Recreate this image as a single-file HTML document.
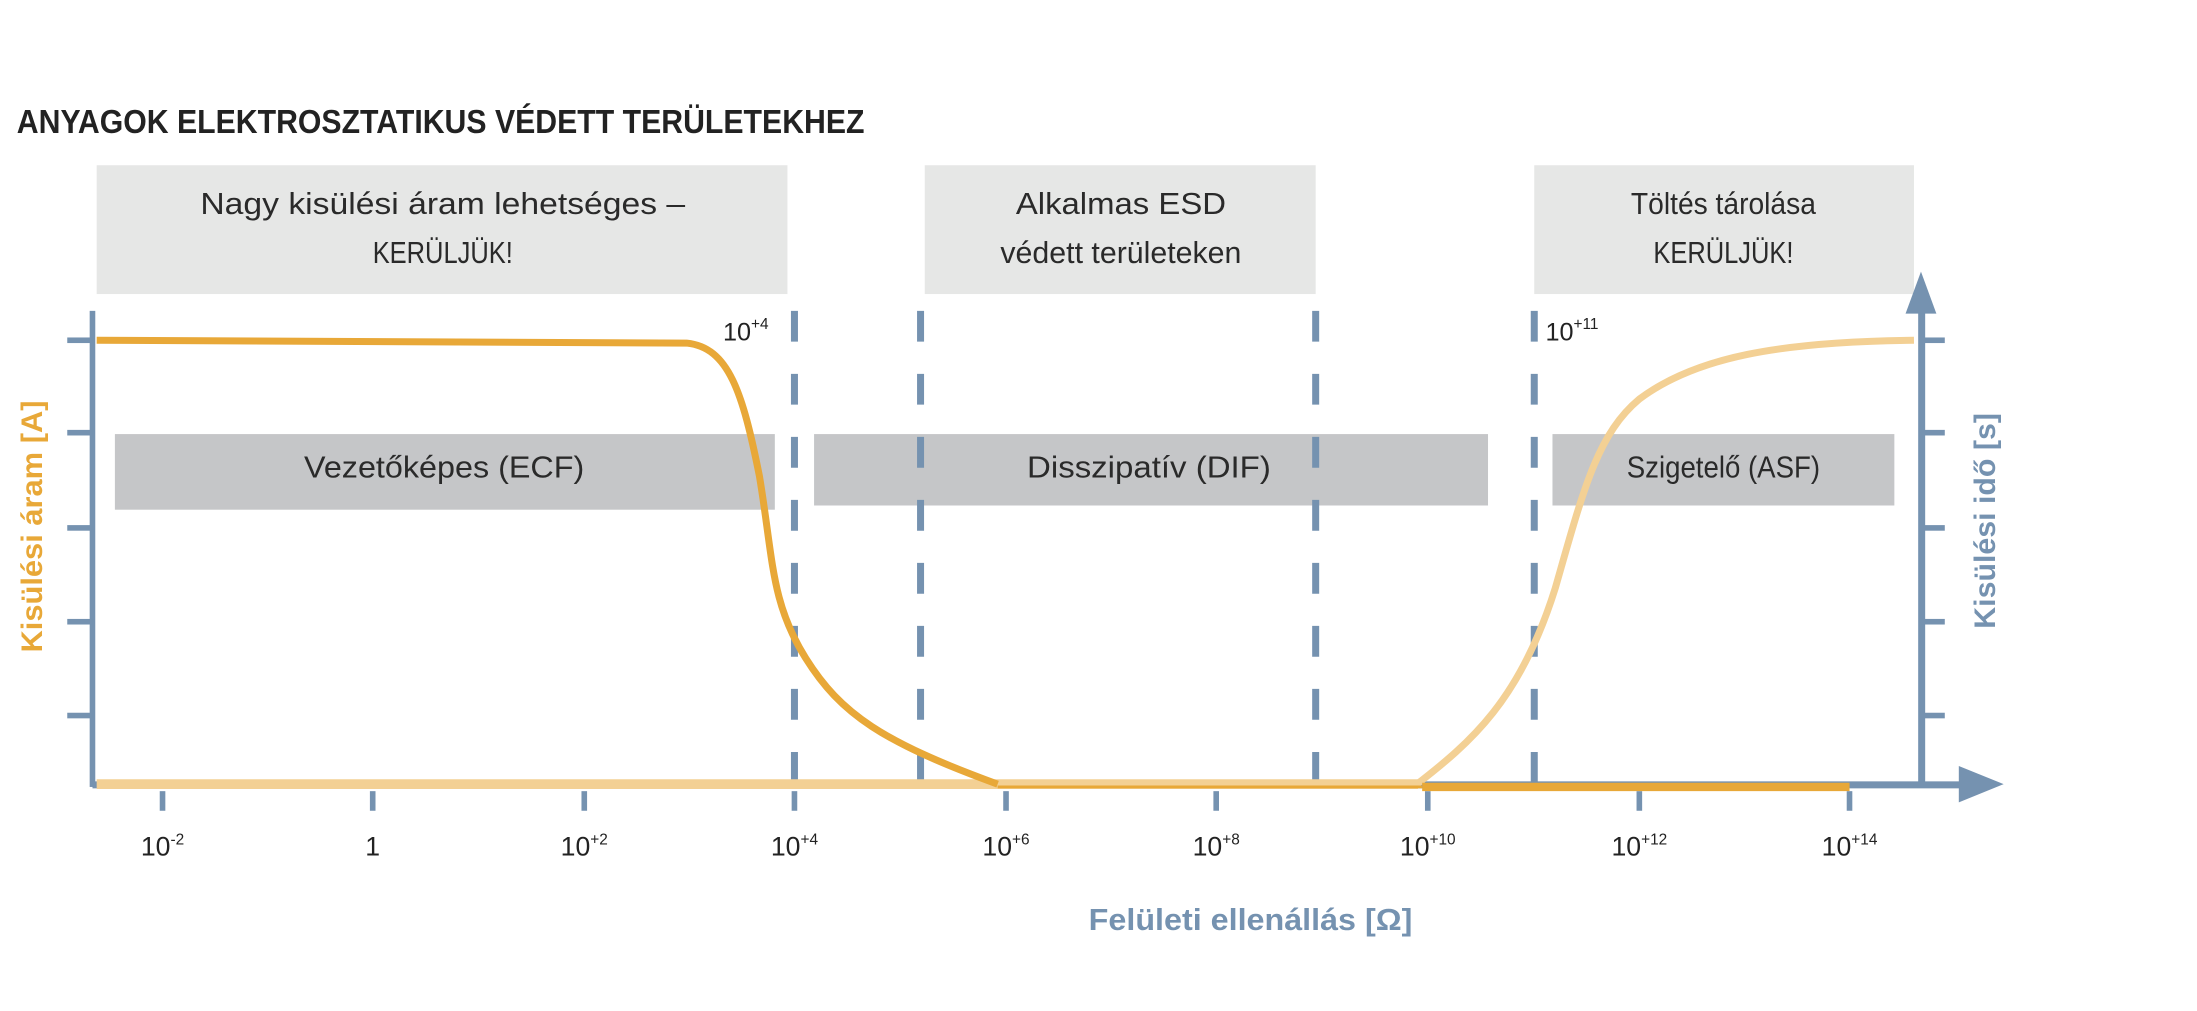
<!DOCTYPE html>
<html><head><meta charset="utf-8"><style>
html,body{margin:0;padding:0;background:#fff;}
svg{display:block;}
text{font-family:"Liberation Sans",sans-serif;}
</style></head><body>
<svg width="2197" height="1011" viewBox="0 0 1568 722" preserveAspectRatio="none" xmlns="http://www.w3.org/2000/svg">
<text x="12" y="95" font-size="24" font-weight="bold" fill="#222" textLength="605" lengthAdjust="spacingAndGlyphs">ANYAGOK ELEKTROSZTATIKUS VÉDETT TERÜLETEKHEZ</text>
<g fill="#e6e7e6">
<rect x="69" y="118" width="493" height="92"/>
<rect x="660" y="118" width="279" height="92"/>
<rect x="1095" y="118" width="271" height="92"/>
</g>
<g fill="#c5c6c8">
<rect x="82" y="310" width="471" height="54"/>
<rect x="581" y="310" width="481" height="51"/>
<rect x="1108" y="310" width="244" height="51"/>
</g>
<g font-size="22" fill="#2a2a2a" text-anchor="middle" lengthAdjust="spacingAndGlyphs">
<text x="316" y="153" textLength="346" lengthAdjust="spacingAndGlyphs">Nagy kisülési áram lehetséges –</text>
<text x="316" y="188" textLength="100" lengthAdjust="spacingAndGlyphs">KERÜLJÜK!</text>
<text x="800" y="153" textLength="150" lengthAdjust="spacingAndGlyphs">Alkalmas ESD</text>
<text x="800" y="188" textLength="172" lengthAdjust="spacingAndGlyphs">védett területeken</text>
<text x="1230" y="153" textLength="132" lengthAdjust="spacingAndGlyphs">Töltés tárolása</text>
<text x="1230" y="188" textLength="100" lengthAdjust="spacingAndGlyphs">KERÜLJÜK!</text>
<text x="317" y="341" textLength="200" lengthAdjust="spacingAndGlyphs">Vezetőképes (ECF)</text>
<text x="820" y="341" textLength="174" lengthAdjust="spacingAndGlyphs">Disszipatív (DIF)</text>
<text x="1230" y="341" textLength="138" lengthAdjust="spacingAndGlyphs">Szigetelő (ASF)</text>
</g>
<g stroke="#7592b0" stroke-width="5" stroke-dasharray="22 23">
<line x1="567" y1="222" x2="567" y2="560"/>
<line x1="657" y1="222" x2="657" y2="560"/>
<line x1="939" y1="222" x2="939" y2="560"/>
<line x1="1095" y1="222" x2="1095" y2="560"/>
</g>
<g fill="#7592b0">
<rect x="64" y="222" width="4" height="340"/>
<rect x="1369" y="222" width="5" height="340"/>
<polygon points="1371,194 1360,224 1382,224"/>
<rect x="66" y="558" width="1334" height="5"/>
<polygon points="1430,560 1398,547 1398,573"/>
<rect x="48" y="241" width="18" height="4"/><rect x="48" y="307" width="18" height="4"/><rect x="48" y="375" width="18" height="4"/><rect x="48" y="442" width="18" height="4"/><rect x="48" y="509" width="18" height="4"/>
<rect x="1371" y="241" width="17" height="4"/><rect x="1371" y="307" width="17" height="4"/><rect x="1371" y="375" width="17" height="4"/><rect x="1371" y="442" width="17" height="4"/><rect x="1371" y="509" width="17" height="4"/>
<rect x="114" y="565" width="4" height="14"/><rect x="264" y="565" width="4" height="14"/><rect x="415" y="565" width="4" height="14"/><rect x="565" y="565" width="4" height="14"/><rect x="716" y="565" width="4" height="14"/><rect x="866" y="565" width="4" height="14"/><rect x="1017" y="565" width="4" height="14"/><rect x="1168" y="565" width="4" height="14"/><rect x="1318" y="565" width="4" height="14"/>
</g>
<path d="M69,560 L1012,560" stroke="#f3d094" stroke-width="7" fill="none"/>
<path d="M1010,561 C1050,530 1085,500 1110,420 C1130,350 1140,310 1170,285 C1210,255 1270,244 1366,243" stroke="#f3d094" stroke-width="5" fill="none"/>
<path d="M712,562 L1015,562" stroke="#e8a838" stroke-width="2" fill="none"/>
<path d="M1015,562 L1320,562" stroke="#e8a838" stroke-width="6" fill="none"/>
<path d="M69,243 L490,245 C520,248 530,280 542,340 C552,400 550,430 575,470 C600,510 630,530 712,560" stroke="#e8a838" stroke-width="5" fill="none"/>
<g font-size="18" fill="#222">
<text x="516" y="243">10<tspan font-size="11" dy="-8">+4</tspan></text>
<text x="1103" y="243">10<tspan font-size="11" dy="-8">+11</tspan></text>
</g>
<g font-size="19" fill="#222" text-anchor="middle">
<text x="116" y="611">10<tspan font-size="11" dy="-8">-2</tspan></text>
<text x="266" y="611">1</text>
<text x="417" y="611">10<tspan font-size="11" dy="-8">+2</tspan></text>
<text x="567" y="611">10<tspan font-size="11" dy="-8">+4</tspan></text>
<text x="718" y="611">10<tspan font-size="11" dy="-8">+6</tspan></text>
<text x="868" y="611">10<tspan font-size="11" dy="-8">+8</tspan></text>
<text x="1019" y="611">10<tspan font-size="11" dy="-8">+10</tspan></text>
<text x="1170" y="611">10<tspan font-size="11" dy="-8">+12</tspan></text>
<text x="1320" y="611">10<tspan font-size="11" dy="-8">+14</tspan></text>
</g>
<text x="777" y="664" font-size="22" font-weight="bold" fill="#7592b0" textLength="231" lengthAdjust="spacingAndGlyphs">Felületi ellenállás  [Ω]</text>
<text transform="translate(30,376) rotate(-90)" text-anchor="middle" font-size="21" font-weight="bold" fill="#e8a838" textLength="180" lengthAdjust="spacingAndGlyphs">Kisülési áram [A]</text>
<text transform="translate(1424,372) rotate(-90)" text-anchor="middle" font-size="21" font-weight="bold" fill="#7592b0" textLength="154" lengthAdjust="spacingAndGlyphs">Kisülési idő [s]</text>
</svg>
</body></html>
